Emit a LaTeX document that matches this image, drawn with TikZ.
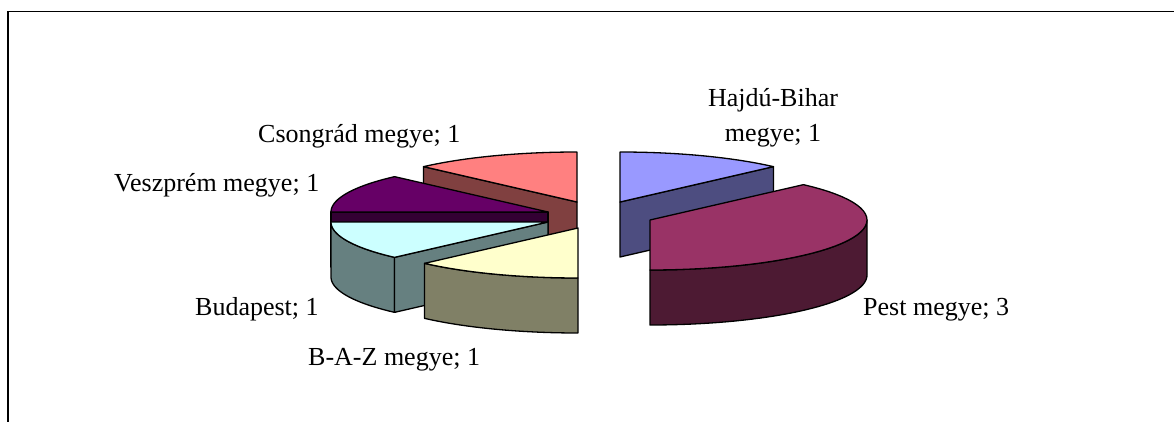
\documentclass[tikz,border=0pt]{standalone}
\usepackage{fontspec}
\setmainfont{Liberation Serif}

\definecolor{hbtop}{HTML}{9999FF}
\definecolor{hbside}{HTML}{4D4D80}
\definecolor{pesttop}{HTML}{993366}
\definecolor{pestside}{HTML}{4D1A33}
\definecolor{baztop}{HTML}{FFFFCC}
\definecolor{bazside}{HTML}{808066}
\definecolor{bptop}{HTML}{CCFFFF}
\definecolor{bpside}{HTML}{668080}
\definecolor{vesztop}{HTML}{660066}
\definecolor{veszside}{HTML}{330033}
\definecolor{csongtop}{HTML}{FF8080}
\definecolor{csongside}{HTML}{804040}

\tikzset{
  slice/.style={draw=black, line width=1.3pt, line join=round, samples=40},
  lbl/.style={font=\fontsize{26}{35}\selectfont, inner sep=0pt},
}

% top face: centre x, centre y, from angle, to angle, colour
\newcommand{\pietop}[5]{\filldraw[slice, fill=#5] (#1,#2) -- plot[domain=#3:#4] ({#1+217*sin(\x)},{#2-50*cos(\x)}) -- cycle;}
% outer rim
\newcommand{\pierim}[5]{\filldraw[slice, fill=#5] plot[domain=#3:#4] ({#1+217*sin(\x)},{#2-50*cos(\x)}) -- plot[domain=#4:#3] ({#1+217*sin(\x)},{#2+55-50*cos(\x)}) -- cycle;}
% cut face along one radius
\newcommand{\piecut}[4]{\filldraw[slice, fill=#4] (#1,#2) -- ({#1+217*sin(#3)},{#2-50*cos(#3)}) -- ++(0,55) -- (#1,{#2+55}) -- cycle;}

\begin{document}
\begin{tikzpicture}[x=1pt, y=-1pt]
\useasboundingbox (0,0) rectangle (1174,422);
\draw [line width=1.5pt](8,422) -- (8,11.5) -- (1174,11.5);

% right half
\piecut{620}{202}{45}{hbside}
\pietop{620}{202}{0}{45}{hbtop}
\pierim{650}{220}{90}{180}{pestside}
\pietop{650}{220}{45}{180}{pesttop}

% left half
\piecut{577}{202}{315}{csongside}
\pietop{577}{202}{315}{360}{csongtop}
\piecut{548}{212}{270}{veszside}
\pietop{548}{212}{270}{315}{vesztop}
\pierim{548}{222}{225}{270}{bpside}
\piecut{548}{222}{225}{bpside}
\pietop{548}{222}{225}{270}{bptop}
\pierim{578}{228}{180}{225}{bazside}
\pietop{578}{228}{180}{225}{baztop}

\node [lbl, anchor=base, align=center] (lhajdu) at (773,142) {Hajdú-Bihar\\megye; 1};
\node [lbl, anchor=base west] (lcsong) at (258,143) {Csongrád megye; 1};
\node [lbl, anchor=base west] (lvesz) at (114,192) {Veszprém megye; 1};
\node [lbl, anchor=base west] (lbp) at (195,315) {Budapest; 1};
\node [lbl, anchor=base west] (lbaz) at (308,365) {B-A-Z megye; 1};
\node [lbl, anchor=base west] (lpest) at (863,315) {Pest megye; 3};
\end{tikzpicture}
\end{document}
